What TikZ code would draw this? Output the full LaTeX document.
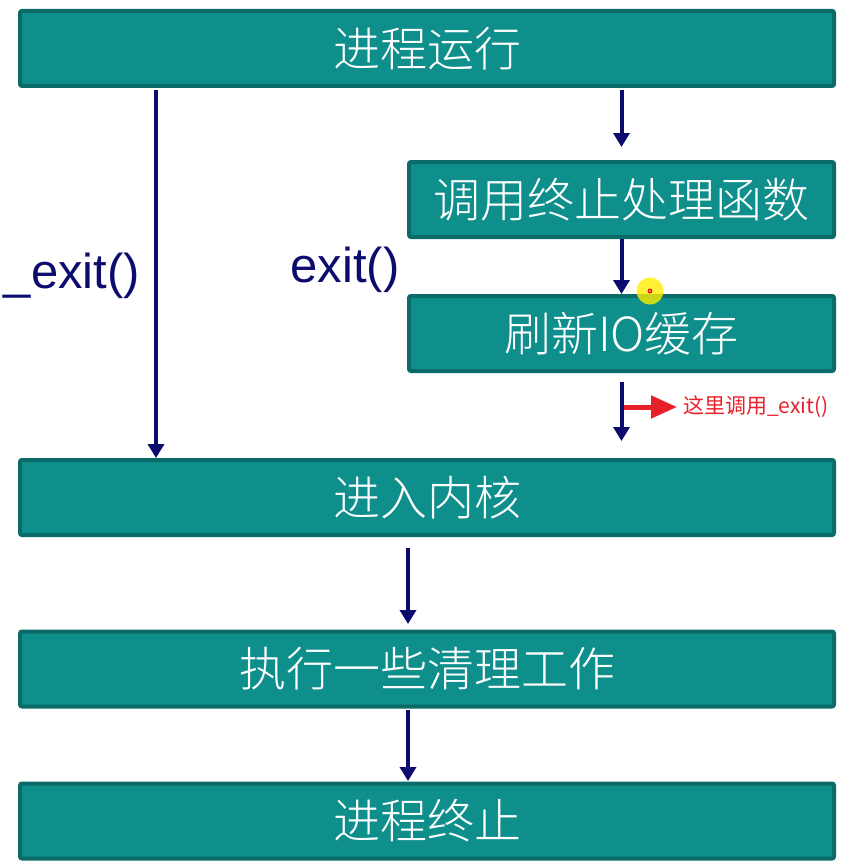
\documentclass[tikz,border=0pt]{standalone}
\usepackage{fontspec}
\setmainfont{Liberation Sans}
\newfontfamily\cjk{Noto Sans CJK SC}[UprightFont={* Light}]
\newfontfamily\cjkr{Noto Sans CJK SC}
\usetikzlibrary{arrows.meta}
\definecolor{boxfill}{HTML}{0E8F8C}
\definecolor{boxline}{HTML}{0A6B68}
\definecolor{navy}{HTML}{0C0C6E}
\definecolor{redc}{HTML}{E8202A}
\tikzset{
  stepbox/.style={draw=boxline, line width=4pt, fill=boxfill, rounded corners=2pt,
    minimum height=75pt, inner sep=0pt, text=white, font=\cjk\fontsize{47}{50}\selectfont},
  flow/.style={draw=navy, line width=4pt, -{Triangle[width=16pt,length=14pt]}},
  lbl/.style={text=navy, font=\fontsize{49}{52}\selectfont, inner sep=0pt},
}
\begin{document}
\begin{tikzpicture}[x=1pt,y=-1pt]
\useasboundingbox (0,0) rectangle (852,864);
\node[stepbox, minimum width=814pt] (b1) at (427,48.5) {进程运行};
\node[stepbox, minimum width=425pt] (b2) at (621.5,199.5) {调用终止处理函数};
\node[stepbox, minimum width=425pt] (b3) at (621.5,333.5) {刷新IO缓存};
\node[stepbox, minimum width=814pt] (b4) at (427,497.5) {进入内核};
\node[stepbox, minimum width=814pt] (b5) at (427,669) {执行一些清理工作};
\node[stepbox, minimum width=814pt] (b6) at (427,821) {进程终止};
\coordinate (l1) at (156,90);
\coordinate (l2) at (156,458);
\coordinate (r1) at (621.5,90);
\coordinate (r2) at (621.5,147);
\coordinate (r3) at (621.5,382);
\coordinate (r4) at (621.5,441);
\coordinate (m1) at (408,548);
\coordinate (m2) at (408,624);
\coordinate (m3) at (408,710);
\coordinate (m4) at (408,781);
\coordinate (ra) at (624,407);
\coordinate (rb) at (677,407);
\draw[flow] (l1) -- (l2);
\draw[flow] (r1) -- (r2);
\draw[flow] (b2.south) -- (b3.north);
\draw[flow] (r3) -- (r4);
\draw[flow] (m1) -- (m2);
\draw[flow] (m3) -- (m4);
\draw[draw=redc, line width=5pt, -{Triangle[width=22pt,length=26pt]}] (ra) -- (rb);
\node[text=redc, anchor=west, inner sep=0pt, font=\cjkr\fontsize{21}{23}\selectfont] (rl) at (683,407) {这里调用\_exit()};
\node[lbl] (e1) at (72,276) {\_exit()};
\node[lbl] (e2) at (345,270) {exit()};
\fill[yellow!95!orange, opacity=0.8] (650,291) circle (13.5);
\fill[red] (650,291) circle (2.4);
\fill[white] (650,291) circle (0.9);
\end{tikzpicture}
\end{document}
